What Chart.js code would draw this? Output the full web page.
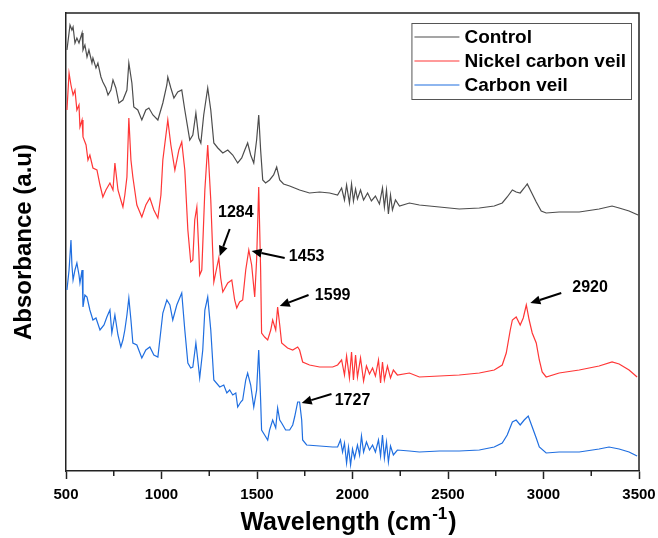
<!DOCTYPE html>
<html><head><meta charset="utf-8">
<script src="https://cdn.jsdelivr.net/npm/chart.js@4.4.0/dist/chart.umd.min.js"></script>
<style>html,body{margin:0;padding:0;background:#fff;}#wrap{width:658px;height:538px;}</style>
</head><body><div id="wrap"><canvas id="c" width="658" height="538"></canvas></div>
<script>
// ---- data (wavenumber cm-1, absorbance a.u.) ----
const seriesNames = ['Control', 'Nickel carbon veil', 'Carbon veil'];
const controlWn = [505,521,531,537,547,557,568,584,589,599,610,620,636,641,657,667,683,693,709,720,735,746,761,777,798,819,829,845,855,876,897,918,934,955,981,1007,1028,1033,1049,1065,1085,1106,1122,1148,1164,1180,1195,1206,1221,1242,1258,1274,1295,1321,1347,1373,1399,1420,1436,1451,1467,1483,1498,1509,1519,1530,1545,1566,1587,1603,1619,1639,1671,1723,1775,1828,1880,1922,1943,1958,1969,1984,1995,2005,2016,2026,2042,2058,2079,2099,2120,2141,2157,2167,2178,2188,2199,2209,2225,2246,2298,2350,2455,2559,2664,2742,2784,2810,2837,2857,2878,2899,2915,2936,2962,2988,3014,3082,3187,3291,3359,3396,3448,3495];
const controlAbs = [4.21,4.46,4.41,4.44,4.28,4.33,4.28,4.38,4.21,4.26,4.14,4.21,4.08,4.13,4.03,4.08,3.94,3.89,3.83,3.76,3.81,3.91,3.83,3.68,3.71,3.81,4.08,3.88,3.64,3.61,3.51,3.61,3.63,3.56,3.51,3.68,3.86,3.94,3.83,3.73,3.79,3.81,3.61,3.31,3.36,3.58,3.33,3.28,3.56,3.83,3.61,3.28,3.23,3.18,3.21,3.16,3.08,3.13,3.21,3.28,3.16,3.08,3.31,3.56,3.21,2.91,2.88,2.91,2.96,3.04,2.91,2.87,2.85,2.81,2.78,2.79,2.78,2.76,2.83,2.71,2.86,2.68,2.87,2.70,2.82,2.72,2.81,2.71,2.78,2.70,2.75,2.67,2.83,2.64,2.81,2.57,2.76,2.61,2.71,2.65,2.68,2.66,2.64,2.62,2.63,2.65,2.68,2.74,2.81,2.79,2.78,2.83,2.87,2.79,2.69,2.60,2.58,2.59,2.59,2.62,2.65,2.63,2.60,2.56];
const nickelWn = [505,516,526,537,547,557,568,573,584,589,605,615,625,641,662,678,693,709,730,746,756,772,787,798,808,819,829,840,850,871,897,918,939,960,981,997,1007,1033,1049,1070,1091,1106,1122,1138,1153,1164,1174,1185,1195,1200,1211,1227,1242,1258,1274,1289,1300,1310,1321,1347,1368,1383,1394,1409,1425,1441,1457,1472,1488,1498,1509,1519,1524,1540,1556,1572,1582,1598,1608,1619,1629,1660,1687,1713,1723,1739,1775,1828,1896,1922,1943,1958,1969,1984,1995,2005,2016,2026,2042,2058,2073,2089,2105,2120,2136,2147,2157,2167,2183,2199,2214,2235,2298,2350,2455,2559,2664,2742,2784,2805,2826,2837,2857,2878,2894,2910,2925,2941,2962,2978,2993,3014,3082,3187,3291,3359,3396,3448,3490];
const nickelAbs = [3.61,3.98,3.86,3.76,3.81,3.61,3.66,3.44,3.51,3.34,3.26,3.11,3.16,3.03,3.01,2.86,2.74,2.81,2.88,2.81,3.08,2.81,2.71,2.64,2.76,2.94,3.53,3.11,2.94,2.66,2.54,2.66,2.73,2.61,2.53,2.76,3.11,3.51,3.26,3.01,3.21,3.29,3.01,2.41,2.09,2.11,2.51,2.64,2.21,1.96,2.01,2.81,3.26,2.71,1.89,2.03,2.13,1.93,1.79,1.88,1.91,1.71,1.63,1.69,1.71,2.01,2.21,2.06,1.74,2.11,2.84,2.01,1.38,1.34,1.31,1.41,1.51,1.41,1.64,1.46,1.28,1.23,1.21,1.24,1.21,1.09,1.06,1.04,1.04,1.06,1.11,0.96,1.15,0.93,1.19,0.91,1.16,0.94,1.13,0.90,1.05,0.97,1.03,0.95,1.11,0.88,1.09,0.91,1.05,0.93,1.01,0.96,0.98,0.94,0.95,0.96,0.98,1.01,1.06,1.18,1.41,1.51,1.54,1.46,1.53,1.66,1.51,1.38,1.28,1.11,0.99,0.94,0.98,1.01,1.05,1.09,1.07,1.01,0.94];
const carbonWn = [505,516,526,531,537,547,557,568,573,584,589,599,610,625,641,657,678,699,714,730,740,756,772,787,798,808,819,829,840,850,871,897,918,939,960,981,997,1007,1028,1044,1059,1080,1106,1122,1138,1153,1164,1180,1190,1200,1216,1227,1242,1258,1274,1305,1326,1342,1357,1373,1389,1399,1415,1425,1441,1451,1467,1483,1498,1509,1519,1524,1540,1556,1566,1582,1598,1608,1619,1629,1650,1671,1687,1697,1713,1723,1734,1739,1760,1828,1896,1922,1937,1948,1958,1969,1979,1990,2000,2011,2026,2037,2047,2058,2073,2089,2105,2120,2136,2147,2157,2167,2178,2188,2199,2214,2235,2298,2350,2455,2559,2664,2742,2784,2810,2837,2857,2878,2899,2920,2941,2962,2978,3014,3082,3187,3291,3343,3396,3448,3490];
const carbonAbs = [1.81,2.01,2.31,2.06,1.91,2.01,2.08,1.96,1.88,2.01,1.64,1.76,1.74,1.61,1.51,1.53,1.41,1.46,1.54,1.61,1.38,1.56,1.36,1.24,1.31,1.41,1.56,1.73,1.51,1.28,1.26,1.13,1.21,1.24,1.16,1.14,1.41,1.58,1.71,1.66,1.51,1.66,1.78,1.41,1.08,1.03,1.04,1.28,1.11,0.93,1.21,1.61,1.74,1.41,0.91,0.84,0.86,0.78,0.81,0.76,0.78,0.64,0.69,0.71,0.91,0.98,0.86,0.64,0.81,1.21,0.71,0.41,0.36,0.31,0.41,0.51,0.43,0.63,0.51,0.48,0.41,0.41,0.46,0.54,0.69,0.69,0.51,0.31,0.26,0.25,0.24,0.24,0.31,0.19,0.28,0.08,0.24,0.06,0.22,0.13,0.26,0.16,0.35,0.19,0.29,0.21,0.26,0.19,0.31,0.15,0.36,0.13,0.29,0.09,0.25,0.16,0.21,0.20,0.19,0.20,0.20,0.21,0.24,0.28,0.36,0.49,0.51,0.46,0.51,0.55,0.44,0.33,0.24,0.18,0.19,0.19,0.22,0.24,0.22,0.19,0.15];
const xTickValues = [500, 1000, 1500, 2000, 2500, 3000, 3500];
const xMinorTicks = [750, 1250, 1750, 2250, 2750, 3250];
// peak annotations (label, arrow tip / tail, label anchor in data units)
const peakLabels = ['1284', '1453', '1599', '1727', '2920'];
const peakTipWn = [1305, 1472, 1619, 1734, 2931];
const peakTipAbs = [2.15, 2.20, 1.65, 0.68, 1.68];
const peakTailWn = [1357, 1645, 1770, 1890, 3093];
const peakTailAbs = [2.42, 2.13, 1.76, 0.77, 1.78];
const peakTextWn = [1389, 1760, 1896, 2000, 3244];
const peakTextAbs = [2.58, 2.14, 1.75, 0.70, 1.83];

const FONT = '"Liberation Sans", Arial, Helvetica, sans-serif';
const colors = ['#4d4d4d', '#ff3636', '#1f6ee0'];
function pts(wn, ab) { const n = Math.min(wn.length, ab.length); const o = []; for (let i = 0; i < n; i++) o.push({x: wn[i], y: ab[i]}); return o; }

const extras = {
  id: 'extras',
  afterDraw(chart) {
    const ctx = chart.ctx, a = chart.chartArea, xs = chart.scales.x, ys = chart.scales.y;
    ctx.save();
    ctx.strokeStyle = '#222'; ctx.lineWidth = 1.5;
    ctx.beginPath(); ctx.moveTo(a.left, a.top); ctx.lineTo(a.right, a.top); ctx.lineTo(a.right, a.bottom); ctx.stroke();
    xMinorTicks.forEach(v => { const x = xs.getPixelForValue(v); ctx.beginPath(); ctx.moveTo(x, a.bottom); ctx.lineTo(x, a.bottom + 5); ctx.stroke(); });
    // annotations
    ctx.fillStyle = '#000'; ctx.strokeStyle = '#000';
    for (let i = 0; i < peakLabels.length; i++) {
      const x1 = xs.getPixelForValue(peakTailWn[i]), y1 = ys.getPixelForValue(peakTailAbs[i]);
      const x2 = xs.getPixelForValue(peakTipWn[i]), y2 = ys.getPixelForValue(peakTipAbs[i]);
      const ang = Math.atan2(y2 - y1, x2 - x1), hl = 10, hw = 4.5;
      const bx = x2 - hl * Math.cos(ang), by = y2 - hl * Math.sin(ang);
      ctx.lineWidth = 2; ctx.beginPath(); ctx.moveTo(x1, y1); ctx.lineTo(bx, by); ctx.stroke();
      ctx.beginPath(); ctx.moveTo(x2, y2);
      ctx.lineTo(bx + hw * Math.sin(ang), by - hw * Math.cos(ang));
      ctx.lineTo(bx - hw * Math.sin(ang), by + hw * Math.cos(ang));
      ctx.closePath(); ctx.fill();
      ctx.font = 'bold 16px ' + FONT; ctx.textAlign = 'center'; ctx.textBaseline = 'middle';
      ctx.fillText(peakLabels[i], xs.getPixelForValue(peakTextWn[i]), ys.getPixelForValue(peakTextAbs[i]));
    }
    // legend box
    ctx.font = 'bold 19px ' + FONT;
    const tw = Math.max(...chart.data.datasets.map(d => ctx.measureText(d.label).width));
    const bw = 3 + 45 + 5 + tw + 5, bh = 76;
    const bx0 = a.right - 8 - bw, by0 = a.top + 10;
    ctx.fillStyle = '#fff'; ctx.fillRect(bx0, by0, bw, bh);
    ctx.strokeStyle = '#555'; ctx.lineWidth = 1; ctx.strokeRect(bx0 + 0.5, by0 + 0.5, bw, bh);
    chart.data.datasets.forEach((d, i) => {
      const ry = by0 + 14 + i * 24;
      ctx.strokeStyle = d.borderColor; ctx.lineWidth = 1.2;
      ctx.beginPath(); ctx.moveTo(bx0 + 3, ry); ctx.lineTo(bx0 + 48, ry); ctx.stroke();
      ctx.fillStyle = '#000'; ctx.textAlign = 'left'; ctx.textBaseline = 'middle';
      ctx.fillText(d.label, bx0 + 53, ry + 1);
    });
    // x axis title with superscript
    const main = 'Wavelength (cm', sup = '-1', close = ')';
    const mf = 'bold 25px ' + FONT, sf = 'bold 17px ' + FONT;
    ctx.font = mf; const w1 = ctx.measureText(main).width, w3 = ctx.measureText(close).width;
    ctx.font = sf; const w2 = ctx.measureText(sup).width;
    const cx = (a.left + a.right) / 2 - 5, base = a.bottom + 59;
    let x = cx - (w1 + w2 + w3) / 2;
    ctx.fillStyle = '#000'; ctx.textAlign = 'left'; ctx.textBaseline = 'alphabetic';
    ctx.font = mf; ctx.fillText(main, x, base); x += w1;
    ctx.font = sf; ctx.fillText(sup, x + 1, base - 11); x += w2 + 2;
    ctx.font = mf; ctx.fillText(close, x, base);
    ctx.restore();
  }
};

new Chart(document.getElementById('c'), {
  type: 'line',
  data: {
    datasets: [
      { label: seriesNames[0], data: pts(controlWn, controlAbs), borderColor: colors[0] },
      { label: seriesNames[1], data: pts(nickelWn, nickelAbs), borderColor: colors[1] },
      { label: seriesNames[2], data: pts(carbonWn, carbonAbs), borderColor: colors[2] }
    ]
  },
  options: {
    responsive: false, animation: false, devicePixelRatio: 1,
    layout: { padding: { top: 13, right: 19, left: 0, bottom: 0 } },
    elements: { point: { radius: 0 }, line: { borderWidth: 1.2, tension: 0 } },
    plugins: { legend: { display: false }, tooltip: { enabled: false } },
    scales: {
      x: {
        type: 'linear', min: 500, max: 3500,
        afterBuildTicks: s => { s.ticks = xTickValues.map(v => ({ value: v })); },
        afterFit: s => { s.height = 67; s.paddingLeft = 0; s.paddingRight = 0; },
        ticks: { callback: v => String(v), font: { size: 15, weight: 'bold', family: FONT }, color: '#000', padding: 7, maxRotation: 0, autoSkip: false },
        grid: { display: true, drawOnChartArea: false, drawTicks: true, tickLength: 8, tickColor: '#222', tickWidth: 1.5 },
        border: { display: true, color: '#222', width: 1.5 }
      },
      y: {
        min: 0, max: 4.58,
        afterFit: s => { s.width = 66; },
        ticks: { display: false },
        grid: { display: false },
        border: { display: true, color: '#222', width: 1.5 },
        title: { display: true, text: 'Absorbance (a.u)', color: '#000', font: { size: 24, weight: 'bold', family: FONT }, padding: { top: 10, bottom: 0 } }
      }
    }
  },
  plugins: [extras]
});
</script></body></html>
